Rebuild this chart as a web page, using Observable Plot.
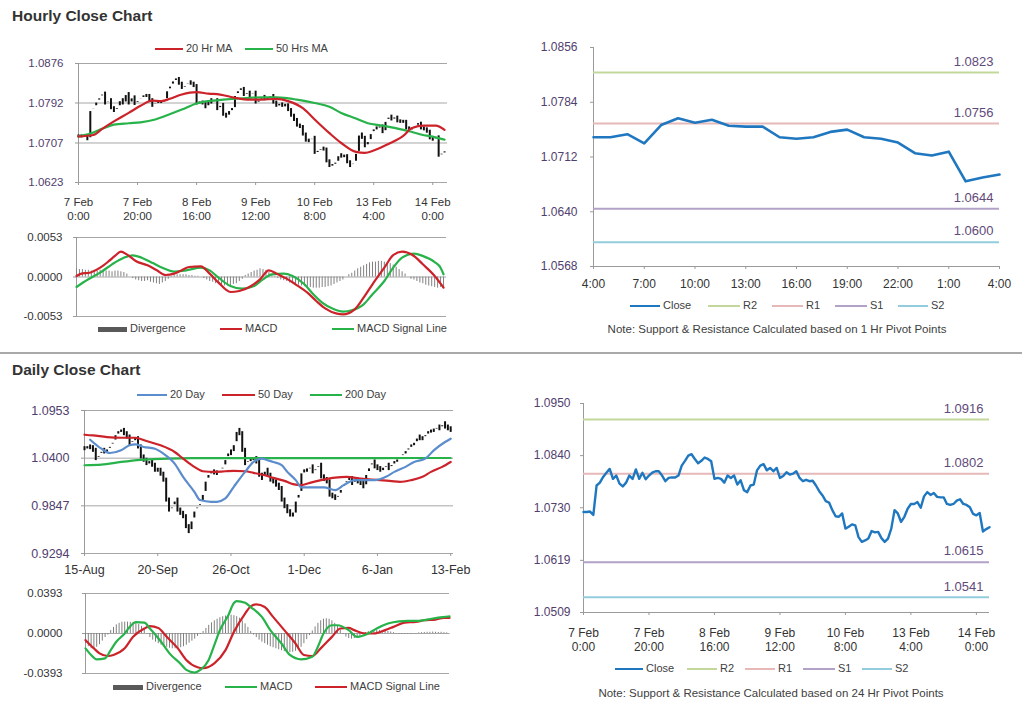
<!DOCTYPE html>
<html><head><meta charset="utf-8">
<script src="https://cdn.jsdelivr.net/npm/d3@7"></script>
<script src="https://cdn.jsdelivr.net/npm/@observablehq/plot@0.6"></script>
<style>
body{margin:0;background:#fff;font-family:"Liberation Sans",Arial,sans-serif;}
#root{position:relative;width:1024px;height:707px;overflow:hidden;background:#fff;}
.title{position:absolute;font-weight:bold;font-size:15.5px;line-height:18px;color:#333;white-space:nowrap;}
.leg{position:absolute;font-size:11px;line-height:13px;color:#404040;white-space:nowrap;}
.sw{position:absolute;}
.note{position:absolute;font-size:11.5px;line-height:13px;color:#404040;white-space:nowrap;transform:translateX(-50%);}
.sep{position:absolute;left:0;width:1022px;height:2px;background:#a9a9a9;}
</style></head><body><div id="root"></div>
<script>
// ---------------- DATA ----------------
const hourlyTickIdx = [0,20,40,60,80,100,120];
const hourlyTickLabels = ["7 Feb\n0:00","7 Feb\n20:00","8 Feb\n16:00","9 Feb\n12:00","10 Feb\n8:00","13 Feb\n4:00","14 Feb\n0:00"];
const hourlyYTicks = [1.0623,1.0707,1.0792,1.0876];
const hourlyMacdYTicks = [-0.0053,0,0.0053];

const hourlyClose = [
1.0721,1.0721,1.0722,1.0715,1.0777,1.0783,1.0795,1.0804,1.0812,1.0791,
1.0798,1.0781,1.0775,1.0783,1.0798,1.0791,1.0811,1.0791,1.0804,1.0790,
1.0798,1.0804,1.0807,1.0807,1.0798,1.0786,1.0793,1.0794,1.0794,1.0798,
1.0819,1.0829,1.0840,1.0843,1.0833,1.0824,1.0829,1.0836,1.0833,1.0828,
1.0791,1.0793,1.0791,1.0783,1.0798,1.0793,1.0798,1.0779,1.0788,1.0767,
1.0763,1.0777,1.0779,1.0809,1.0819,1.0822,1.0809,1.0814,1.0807,1.0814,
1.0793,1.0797,1.0805,1.0800,1.0802,1.0807,1.0793,1.0786,1.0789,1.0786,
1.0787,1.0777,1.0765,1.0756,1.0744,1.0741,1.0725,1.0712,1.0711,1.0718,
1.0686,1.0690,1.0695,1.0693,1.0668,1.0658,1.0661,1.0665,1.0681,1.0678,
1.0679,1.0666,1.0658,1.0665,1.0686,1.0725,1.0718,1.0700,1.0711,1.0728,
1.0738,1.0738,1.0742,1.0730,1.0754,1.0763,1.0757,1.0761,1.0753,1.0752,
1.0752,1.0738,1.0736,1.0738,1.0745,1.0748,1.0738,1.0736,1.0731,1.0717,
1.0714,1.0719,1.0680,1.0685,1.0689];

const ma20HrIdx = [0,5,8,12,17,21,25,28,31,35,40,44,48,53,58,62,67,71,76,80,85,89,94,97,100,105,110,113,117,121,124];
const ma20HrVal = [1.0721,1.0724,1.0737,1.0753,1.0771,1.0786,1.0797,1.0796,1.0801,1.0810,1.0815,1.0812,1.0810,1.0803,1.0799,1.0799,1.0801,1.0796,1.0781,1.0757,1.0728,1.0707,1.0688,1.0686,1.0691,1.0705,1.0722,1.0739,1.0744,1.0744,1.0735];
const ma50HrIdx = [0,4,8,12,17,21,26,30,35,40,44,49,53,58,62,67,71,76,80,85,89,94,98,103,107,112,116,121,124];
const ma50HrVal = [1.0721,1.0727,1.0737,1.0746,1.0749,1.0751,1.0757,1.0766,1.0778,1.0791,1.0796,1.0799,1.0801,1.0803,1.0804,1.0804,1.0802,1.0797,1.0792,1.0784,1.0771,1.0759,1.0749,1.0744,1.0739,1.0732,1.0725,1.0719,1.0714];

const macdHrIdx = [0,2,4,8,11,13,15,17,20,24,27,30,33,35,38,42,45,48,52,55,59,62,65,68,71,74,78,81,84,88,90,94,97,100,104,107,110,114,117,121,123,124];
const macdHrVal = [0.00013,0.00049,0.00054,0.00125,0.00215,0.00282,0.0034,0.00304,0.00215,0.00156,0.00094,0.00027,0.00045,0.0008,0.00134,0.00143,0.00045,-0.00076,-0.00201,-0.00188,-0.00121,-0.00031,0.00089,0.00036,-0.00022,-0.00098,-0.0021,-0.00322,-0.0042,-0.00492,-0.00501,-0.00434,-0.00277,-0.00098,0.00125,0.00295,0.0034,0.00282,0.0017,0.00013,-0.00089,-0.00143];
const sigHrIdx = [0,4,8,12,16,19,22,26,29,33,37,42,45,48,52,56,60,63,66,70,73,77,80,83,87,90,93,97,100,104,107,110,114,117,121,123,124];
const sigHrVal = [-0.00134,-0.00031,0.00058,0.0017,0.00259,0.00291,0.00259,0.00183,0.00125,0.00072,0.00089,0.00125,0.00089,-0.00009,-0.00121,-0.00156,-0.00121,-0.00031,0.00036,0.00045,0.00013,-0.00098,-0.00232,-0.00344,-0.00434,-0.00465,-0.00447,-0.00367,-0.00232,-0.00054,0.00125,0.00259,0.00313,0.00282,0.00201,0.00125,0.00036];
const divHr = [
0.0011,0.0010,0.0010,0.0009,0.0009,0.0008,
0.0008,0.0008,0.0009,0.0009,0.0008,0.0008,0.0007,0.0008,0.0008,0.0007,0.0006,
0.0004,0.0000,
-0.0002,-0.0004,-0.0005,-0.0006,-0.0006,-0.0005,-0.0007,-0.0008,-0.0009,-0.0010,-0.0008,-0.0006,-0.0003,
0.0001,0.0002,0.0003,0.0003,0.0003,0.0003,0.0002,0.0002,0.0001,0.0001,
0.0000,-0.0002,-0.0004,
-0.0006,-0.0007,-0.0009,-0.0010,-0.0011,-0.0012,-0.0012,-0.0012,-0.0010,-0.0009,-0.0006,
-0.0003,
0.0002,0.0004,0.0006,0.0008,0.0009,0.0011,0.0010,0.0009,0.0006,0.0003,
0.0001,-0.0002,
-0.0004,-0.0005,-0.0006,-0.0008,-0.0009,-0.0010,-0.0011,-0.0012,-0.0013,-0.0013,-0.0014,-0.0015,-0.0015,-0.0015,-0.0014,-0.0014,-0.0013,-0.0012,-0.0010,-0.0008,-0.0006,-0.0004,
0.0000,
0.0003,0.0005,0.0008,0.0011,0.0013,0.0015,0.0017,0.0019,0.0020,0.0020,0.0021,0.0021,0.0020,0.0019,0.0018,0.0016,0.0013,0.0010,0.0007,0.0004,
0.0000,
-0.0003,-0.0004,-0.0006,-0.0008,-0.0009,-0.0011,-0.0012,-0.0013,-0.0014,-0.0015,-0.0014,-0.0014];

// hourly pivot panel (13 Feb 4:00 -> 14 Feb 4:00)
const pivotHrTickLabels = ["4:00","7:00","10:00","13:00","16:00","19:00","22:00","1:00","4:00"];
const pivotHrClose = hourlyClose.slice(100);
const pivotHrYTicks = [1.0568,1.0640,1.0712,1.0784,1.0856];
const pivotHrNames = ["R2","R1","S1","S2"];
const pivotHrLevels = [1.0823,1.0756,1.0644,1.0600];

// daily panel
const dailyTickIdx = [0,26,52,78,104,130];
const dailyTickLabels = ["15-Aug","20-Sep","26-Oct","1-Dec","6-Jan","13-Feb"];
const dailyYTicks = [0.9294,0.9847,1.0400,1.0953];
const dailyMacdYTicks = [-0.0393,0,0.0393];
const dailyClose = [
1.0510,1.0530,1.0522,1.0491,1.0395,1.0433,1.0491,1.0472,1.0491,1.0549,
1.0587,1.0684,1.0703,1.0722,1.0684,1.0645,1.0568,1.0607,1.0626,1.0530,
1.0414,1.0376,1.0337,1.0356,1.0318,1.0260,1.0260,1.0214,1.0145,0.9914,
0.9798,0.9837,0.9914,0.9798,0.9760,0.9721,0.9606,0.9548,0.9683,0.9798,
0.9837,0.9875,0.9991,1.0145,1.0222,1.0241,1.0229,1.0222,1.0260,1.0299,
1.0395,1.0472,1.0453,1.0568,1.0722,1.0684,1.0491,1.0337,1.0376,1.0383,
1.0395,1.0356,1.0202,1.0164,1.0260,1.0202,1.0145,1.0125,1.0087,1.0048,
0.9914,0.9837,0.9779,0.9740,0.9740,0.9914,0.9991,1.0241,1.0252,1.0260,
1.0299,1.0241,1.0279,1.0318,1.0183,1.0152,1.0125,0.9971,0.9952,0.9933,
0.9971,1.0048,1.0106,1.0145,1.0164,1.0106,1.0145,1.0125,1.0106,1.0068,
1.0222,1.0299,1.0356,1.0299,1.0279,1.0260,1.0279,1.0318,1.0279,1.0337,
1.0356,1.0376,1.0414,1.0453,1.0472,1.0530,1.0549,1.0568,1.0645,1.0626,
1.0626,1.0684,1.0703,1.0714,1.0722,1.0761,1.0741,1.0799,1.0761,1.0741,
1.0722];
const ma20DayIdx = [2,6,9,13,16,18,21,25,28,32,35,39,41,45,47,50,53,57,60,63,65,67,70,72,75,77,79,82,85,89,92,96,99,103,107,110,114,117,121,124,128,130];
const ma20DayVal = [1.0614,1.0510,1.0460,1.0491,1.0549,1.0560,1.0530,1.0510,1.0453,1.0337,1.0183,1.0010,0.9914,0.9894,0.9894,0.9933,1.0068,1.0241,1.0356,1.0395,1.0376,1.0356,1.0318,1.0241,1.0145,1.0060,1.0060,1.0060,1.0060,1.0029,1.0087,1.0145,1.0145,1.0145,1.0183,1.0241,1.0299,1.0356,1.0395,1.0491,1.0587,1.0626];
const ma50DayIdx = [0,3,8,13,18,22,27,32,35,39,42,46,50,53,57,60,64,67,71,74,77,80,84,89,93,98,102,105,109,112,116,120,123,127,130];
const ma50DayVal = [1.0672,1.0664,1.0645,1.0637,1.0637,1.0599,1.0549,1.0472,1.0395,1.0299,1.0248,1.0241,1.0248,1.0252,1.0248,1.0229,1.0202,1.0171,1.0137,1.0098,1.0087,1.0114,1.0145,1.0175,1.0183,1.0164,1.0152,1.0145,1.0133,1.0125,1.0145,1.0183,1.0241,1.0299,1.0356];
const ma200DayIdx = [0,6,13,20,27,34,41,48,58,70,82,93,105,117,130];
const ma200DayVal = [1.0318,1.0325,1.0356,1.0380,1.0392,1.0398,1.0400,1.0401,1.0401,1.0401,1.0401,1.0401,1.0401,1.0402,1.0402];

const macdDayIdx = [0,2,4,7,9,11,14,16,18,21,23,27,30,34,36,39,41,44,46,48,51,53,54,57,59,63,66,70,73,77,81,83,85,88,90,94,97,101,104,108,112,115,119,122,126,130];
const macdDayVal = [-0.0146,-0.0211,-0.0254,-0.0244,-0.0163,-0.0081,0,0.0072,0.0111,0.0107,0.0049,-0.0081,-0.0195,-0.0299,-0.0358,-0.0384,-0.0358,-0.026,-0.0114,0.0033,0.0179,0.0299,0.0319,0.0302,0.026,0.0163,0.0033,-0.0098,-0.0211,-0.0254,-0.0228,-0.013,0,0.0081,0.0081,0.0033,-0.0033,0,0.0049,0.0098,0.012,0.0124,0.0124,0.0137,0.0156,0.0169];
const sigDayIdx = [0,3,5,8,10,14,17,21,23,26,29,33,36,40,42,46,50,53,57,59,61,64,67,71,75,78,81,84,88,91,94,96,100,103,107,110,114,118,121,125,128,130];
const sigDayVal = [-0.0065,-0.0146,-0.0195,-0.0221,-0.0211,-0.0146,-0.0033,0.0049,0.0072,0.0055,-0.0033,-0.0146,-0.026,-0.0332,-0.0341,-0.0293,-0.0163,0.0016,0.0195,0.0267,0.0286,0.026,0.0163,0.0033,-0.0098,-0.0211,-0.0221,-0.0146,-0.0033,0.0049,0.0055,0.0033,0,0,0.0033,0.0065,0.0107,0.0114,0.013,0.0137,0.0153,0.0153];
const divDay = [
-0.0100,-0.0130,-0.0150,-0.0150,-0.0135,-0.0110,-0.0075,-0.0040,-0.0015,
0.0030,0.0060,0.0085,0.0100,0.0110,0.0112,0.0112,0.0110,0.0110,0.0105,0.0090,0.0070,0.0040,
-0.0005,-0.0040,-0.0065,-0.0085,-0.0100,-0.0115,-0.0125,-0.0135,-0.0145,-0.0150,-0.0150,-0.0148,-0.0140,-0.0130,-0.0115,-0.0095,-0.0075,-0.0055,-0.0030,-0.0010,
0.0020,0.0050,0.0080,0.0105,0.0125,0.0140,0.0155,0.0165,0.0172,0.0178,0.0180,0.0175,0.0165,0.0150,0.0125,0.0095,0.0060,
0.0020,-0.0015,-0.0040,-0.0065,-0.0085,-0.0100,-0.0115,-0.0130,-0.0140,-0.0150,-0.0160,-0.0170,-0.0178,-0.0185,-0.0188,-0.0185,-0.0175,-0.0160,-0.0135,-0.0100,-0.0060,-0.0020,
0.0025,0.0065,0.0100,0.0125,0.0140,0.0145,0.0140,0.0125,0.0100,0.0070,0.0035,
-0.0010,-0.0035,-0.0050,-0.0055,-0.0050,-0.0040,-0.0025,-0.0010,
0.0010,0.0020,0.0025,0.0030,0.0032,0.0030,0.0028,0.0025,0.0020,0.0015,0.0008,
-0.0005,-0.0008,-0.0008,-0.0008,-0.0006,-0.0006,-0.0005,-0.0004,0.0006,0.0008,0.0010,0.0012,0.0012,0.0014,0.0012,0.0010,0.0012,0.0008,0.0006,-0.0004];

// daily pivot panel (hourly closes, 24 Hr pivots)
const pivotDayYTicks = [1.0509,1.0619,1.0730,1.0840,1.0950];
const pivotDayNames = ["R2","R1","S1","S2"];
const pivotDayLevels = [1.0916,1.0802,1.0615,1.0541];

// ---------------- HELPERS ----------------
const root = document.getElementById("root");
const FONT = '"Liberation Sans", Arial, sans-serif';
const fmt4 = v => v.toFixed(4);
const RED = "#cc2229", GREEN = "#27b24a", BLUE20 = "#5b8ccc", CLOSE = "#1f77c0";
const LEVEL_COLORS = {R2:"#c4d79b", R1:"#e6b9b8", S1:"#b3a2c7", S2:"#93cddd"};
const AXIS = "#9a9a9a", GRID = "#a6a6a6", YLAB = "#50406e";
const pts = (idx, val) => idx.map((x, k) => ({x, y: val[k]}));
const candles = arr => arr.map((c, i) => ({i, open: i ? arr[i - 1] : c, close: c}));
const style = fs => ({fontFamily: FONT, fontSize: fs + "px", color: "#333", background: "transparent", overflow: "visible"});

function place(svg, left, top) {
  svg.style.position = "absolute";
  svg.style.left = left + "px";
  svg.style.top = top + "px";
  root.appendChild(svg);
}
function addDiv(cls, text, css) {
  const d = document.createElement("div");
  d.className = cls;
  if (text != null) d.textContent = text;
  d.style.cssText += css;
  root.appendChild(d);
  return d;
}
function legend(cy, items) {
  for (const it of items) {
    const h = it.h || 2;
    addDiv("sw", null, `left:${it.left}px;top:${cy - h / 2}px;width:${it.w}px;height:${h}px;background:${it.color};`);
    addDiv("leg", it.label, `left:${it.left + it.w + 3}px;top:${cy - 7}px;`);
  }
}

// ---------------- TITLES / SEPARATOR ----------------
addDiv("title", "Hourly Close Chart", "left:12px;top:7px;");
addDiv("title", "Daily Close Chart", "left:12px;top:361px;");
addDiv("sep", null, "top:352px;");

// ---------------- PANEL 1: hourly candles + MAs ----------------
place(Plot.plot({
  width: 470, height: 180, marginLeft: 78, marginRight: 23, marginTop: 13, marginBottom: 48,
  style: style(11.5),
  x: {domain: [0, 125], label: null},
  y: {domain: [hourlyYTicks[0], hourlyYTicks[hourlyYTicks.length - 1]], label: null},
  marks: [
    Plot.gridY(hourlyYTicks, {stroke: GRID, strokeOpacity: 1}),
    Plot.ruleX([0], {stroke: AXIS}),
    Plot.axisY(hourlyYTicks, {tickFormat: fmt4, tickSize: 3, tickPadding: 12, fill: YLAB, stroke: AXIS, label: null}),
    Plot.axisX(hourlyTickIdx, {tickFormat: d => hourlyTickLabels[hourlyTickIdx.indexOf(d)], tickSize: 3, tickPadding: 11, lineHeight: 1.2, stroke: AXIS, fill: "#333", label: null}),
    Plot.ruleX(candles(hourlyClose), {x: "i", y1: "open", y2: "close", stroke: "#111", strokeWidth: 2, insetTop: -1.5, insetBottom: -1.5}),
    Plot.line(pts(ma50HrIdx, ma50HrVal), {x: "x", y: "y", stroke: GREEN, strokeWidth: 2.2, curve: "monotone-x"}),
    Plot.line(pts(ma20HrIdx, ma20HrVal), {x: "x", y: "y", stroke: RED, strokeWidth: 2.2, curve: "monotone-x"})
  ]
}), 0, 50);
legend(49, [
  {left: 155, w: 28, color: RED, label: "20 Hr MA"},
  {left: 245, w: 28, color: GREEN, label: "50 Hrs MA"}
]);

// ---------------- PANEL 2: hourly MACD ----------------
place(Plot.plot({
  width: 470, height: 100, marginLeft: 76, marginRight: 24, marginTop: 12, marginBottom: 9,
  style: style(11.5),
  x: {domain: [0, 125], axis: null},
  y: {domain: [hourlyMacdYTicks[0], hourlyMacdYTicks[2]], label: null},
  marks: [
    Plot.gridY(hourlyMacdYTicks, {stroke: GRID, strokeOpacity: 1}),
    Plot.ruleX([0], {stroke: AXIS}),
    Plot.axisY(hourlyMacdYTicks, {tickFormat: fmt4, tickSize: 3, tickPadding: 11, fill: "#333", stroke: AXIS, label: null}),
    Plot.ruleX(divHr.map((v, i) => ({i, v})), {x: "i", y1: 0, y2: "v", stroke: "#808080", strokeWidth: 1}),
    Plot.line(pts(sigHrIdx, sigHrVal), {x: "x", y: "y", stroke: GREEN, strokeWidth: 2.2, curve: "monotone-x"}),
    Plot.line(pts(macdHrIdx, macdHrVal), {x: "x", y: "y", stroke: RED, strokeWidth: 2.2, curve: "monotone-x"})
  ]
}), 0, 225);
legend(329, [
  {left: 98, w: 29, h: 5, color: "#595959", label: "Divergence"},
  {left: 220, w: 22, color: RED, label: "MACD"},
  {left: 332, w: 22, color: GREEN, label: "MACD Signal Line"}
]);

// ---------------- PANEL 3: hourly pivot ----------------
function pivotMarks(names, levels) {
  const ms = [];
  names.forEach((n, k) => {
    ms.push(Plot.ruleY([levels[k]], {stroke: LEVEL_COLORS[n], strokeWidth: 2}));
  });
  ms.push(Plot.text(levels, {y: d => d, text: fmt4, frameAnchor: "right", textAnchor: "end", dx: -6, dy: -11, fill: "#5f4a7a", fontSize: 13}));
  return ms;
}
place(Plot.plot({
  width: 504, height: 270, marginLeft: 73, marginRight: 25, marginTop: 17, marginBottom: 34,
  style: style(12),
  x: {domain: [0, 24], label: null},
  y: {domain: [pivotHrYTicks[0], pivotHrYTicks[pivotHrYTicks.length - 1]], label: null},
  marks: [
    Plot.ruleX([0], {stroke: AXIS}),
    Plot.ruleY([pivotHrYTicks[0]], {stroke: AXIS}),
    Plot.axisY(pivotHrYTicks, {tickFormat: fmt4, tickSize: 3, tickPadding: 13, fill: YLAB, stroke: AXIS, label: null}),
    Plot.axisX(d3.range(0, 25, 3), {tickFormat: d => pivotHrTickLabels[d / 3], tickSize: 3, tickPadding: 10, stroke: AXIS, fill: "#333", label: null}),
    ...pivotMarks(pivotHrNames, pivotHrLevels),
    Plot.line(pivotHrClose, {x: (d, i) => i, y: d => d, stroke: CLOSE, strokeWidth: 2.6})
  ]
}), 520, 30);
legend(306, [
  {left: 630, w: 30, color: CLOSE, label: "Close"},
  {left: 708, w: 32, color: LEVEL_COLORS.R2, label: "R2"},
  {left: 772, w: 31, color: LEVEL_COLORS.R1, label: "R1"},
  {left: 835, w: 32, color: LEVEL_COLORS.S1, label: "S1"},
  {left: 898, w: 30, color: LEVEL_COLORS.S2, label: "S2"}
]);
addDiv("note", "Note: Support & Resistance Calculated based on 1 Hr Pivot Points", "left:777px;top:323px;");

// ---------------- PANEL 4: daily candles + MAs ----------------
place(Plot.plot({
  width: 470, height: 190, marginLeft: 84, marginRight: 17, marginTop: 12, marginBottom: 35,
  style: style(12.5),
  x: {domain: [0, 131], label: null},
  y: {domain: [dailyYTicks[0], dailyYTicks[dailyYTicks.length - 1]], label: null},
  marks: [
    Plot.gridY(dailyYTicks, {stroke: GRID, strokeOpacity: 1}),
    Plot.ruleX([0], {stroke: AXIS}),
    Plot.axisY(dailyYTicks, {tickFormat: fmt4, tickSize: 3, tickPadding: 12, fill: YLAB, stroke: AXIS, label: null}),
    Plot.axisX(dailyTickIdx, {tickFormat: d => dailyTickLabels[dailyTickIdx.indexOf(d)], tickSize: 3, tickPadding: 9, stroke: AXIS, fill: "#333", label: null}),
    Plot.ruleX(candles(dailyClose), {x: "i", y1: "open", y2: "close", stroke: "#111", strokeWidth: 2, insetTop: -2, insetBottom: -2}),
    Plot.line(pts(ma200DayIdx, ma200DayVal), {x: "x", y: "y", stroke: GREEN, strokeWidth: 2.2, curve: "monotone-x"}),
    Plot.line(pts(ma50DayIdx, ma50DayVal), {x: "x", y: "y", stroke: RED, strokeWidth: 2.2, curve: "monotone-x"}),
    Plot.line(pts(ma20DayIdx, ma20DayVal), {x: "x", y: "y", stroke: BLUE20, strokeWidth: 2.2, curve: "monotone-x"})
  ]
}), 0, 398);
legend(395, [
  {left: 137, w: 30, color: BLUE20, label: "20 Day"},
  {left: 222, w: 33, color: RED, label: "50 Day"},
  {left: 310, w: 32, color: GREEN, label: "200 Day"}
]);

// ---------------- PANEL 5: daily MACD ----------------
place(Plot.plot({
  width: 470, height: 100, marginLeft: 85, marginRight: 21, marginTop: 11, marginBottom: 9,
  style: style(11.5),
  x: {domain: [0, 130], axis: null},
  y: {domain: [dailyMacdYTicks[0], dailyMacdYTicks[2]], label: null},
  marks: [
    Plot.gridY(dailyMacdYTicks, {stroke: GRID, strokeOpacity: 1}),
    Plot.ruleX([0], {stroke: AXIS}),
    Plot.axisY(dailyMacdYTicks, {tickFormat: fmt4, tickSize: 3, tickPadding: 20, fill: "#333", stroke: AXIS, label: null}),
    Plot.ruleX(divDay.map((v, i) => ({i, v})), {x: "i", y1: 0, y2: "v", stroke: "#808080", strokeWidth: 1}),
    Plot.line(pts(sigDayIdx, sigDayVal), {x: "x", y: "y", stroke: RED, strokeWidth: 2.2, curve: "monotone-x"}),
    Plot.line(pts(macdDayIdx, macdDayVal), {x: "x", y: "y", stroke: GREEN, strokeWidth: 2.2, curve: "monotone-x"})
  ]
}), 0, 582);
legend(687, [
  {left: 113, w: 30, h: 5, color: "#595959", label: "Divergence"},
  {left: 225, w: 32, color: GREEN, label: "MACD"},
  {left: 315, w: 32, color: RED, label: "MACD Signal Line"}
]);

// ---------------- PANEL 6: daily pivot (hourly closes) ----------------
place(Plot.plot({
  width: 504, height: 260, marginLeft: 63, marginRight: 35, marginTop: 13, marginBottom: 38,
  style: style(12),
  x: {domain: [0, 124], label: null},
  y: {domain: [pivotDayYTicks[0], pivotDayYTicks[pivotDayYTicks.length - 1]], label: null},
  marks: [
    Plot.ruleX([0], {stroke: AXIS}),
    Plot.ruleY([pivotDayYTicks[0]], {stroke: AXIS}),
    Plot.axisY(pivotDayYTicks, {tickFormat: fmt4, tickSize: 3, tickPadding: 10, fill: YLAB, stroke: AXIS, label: null}),
    Plot.axisX(hourlyTickIdx, {tickFormat: d => hourlyTickLabels[hourlyTickIdx.indexOf(d)], tickSize: 3, tickPadding: 11, lineHeight: 1.2, stroke: AXIS, fill: "#333", label: null}),
    ...pivotMarks(pivotDayNames, pivotDayLevels),
    Plot.line(hourlyClose, {x: (d, i) => i, y: d => d, stroke: CLOSE, strokeWidth: 2.4})
  ]
}), 520, 390);
legend(669, [
  {left: 615, w: 28, color: CLOSE, label: "Close"},
  {left: 687, w: 30, color: LEVEL_COLORS.R2, label: "R2"},
  {left: 745, w: 30, color: LEVEL_COLORS.R1, label: "R1"},
  {left: 803, w: 32, color: LEVEL_COLORS.S1, label: "S1"},
  {left: 862, w: 30, color: LEVEL_COLORS.S2, label: "S2"}
]);
addDiv("note", "Note: Support & Resistance Calculated based on 24 Hr Pivot Points", "left:771px;top:687px;");
</script></body></html>
